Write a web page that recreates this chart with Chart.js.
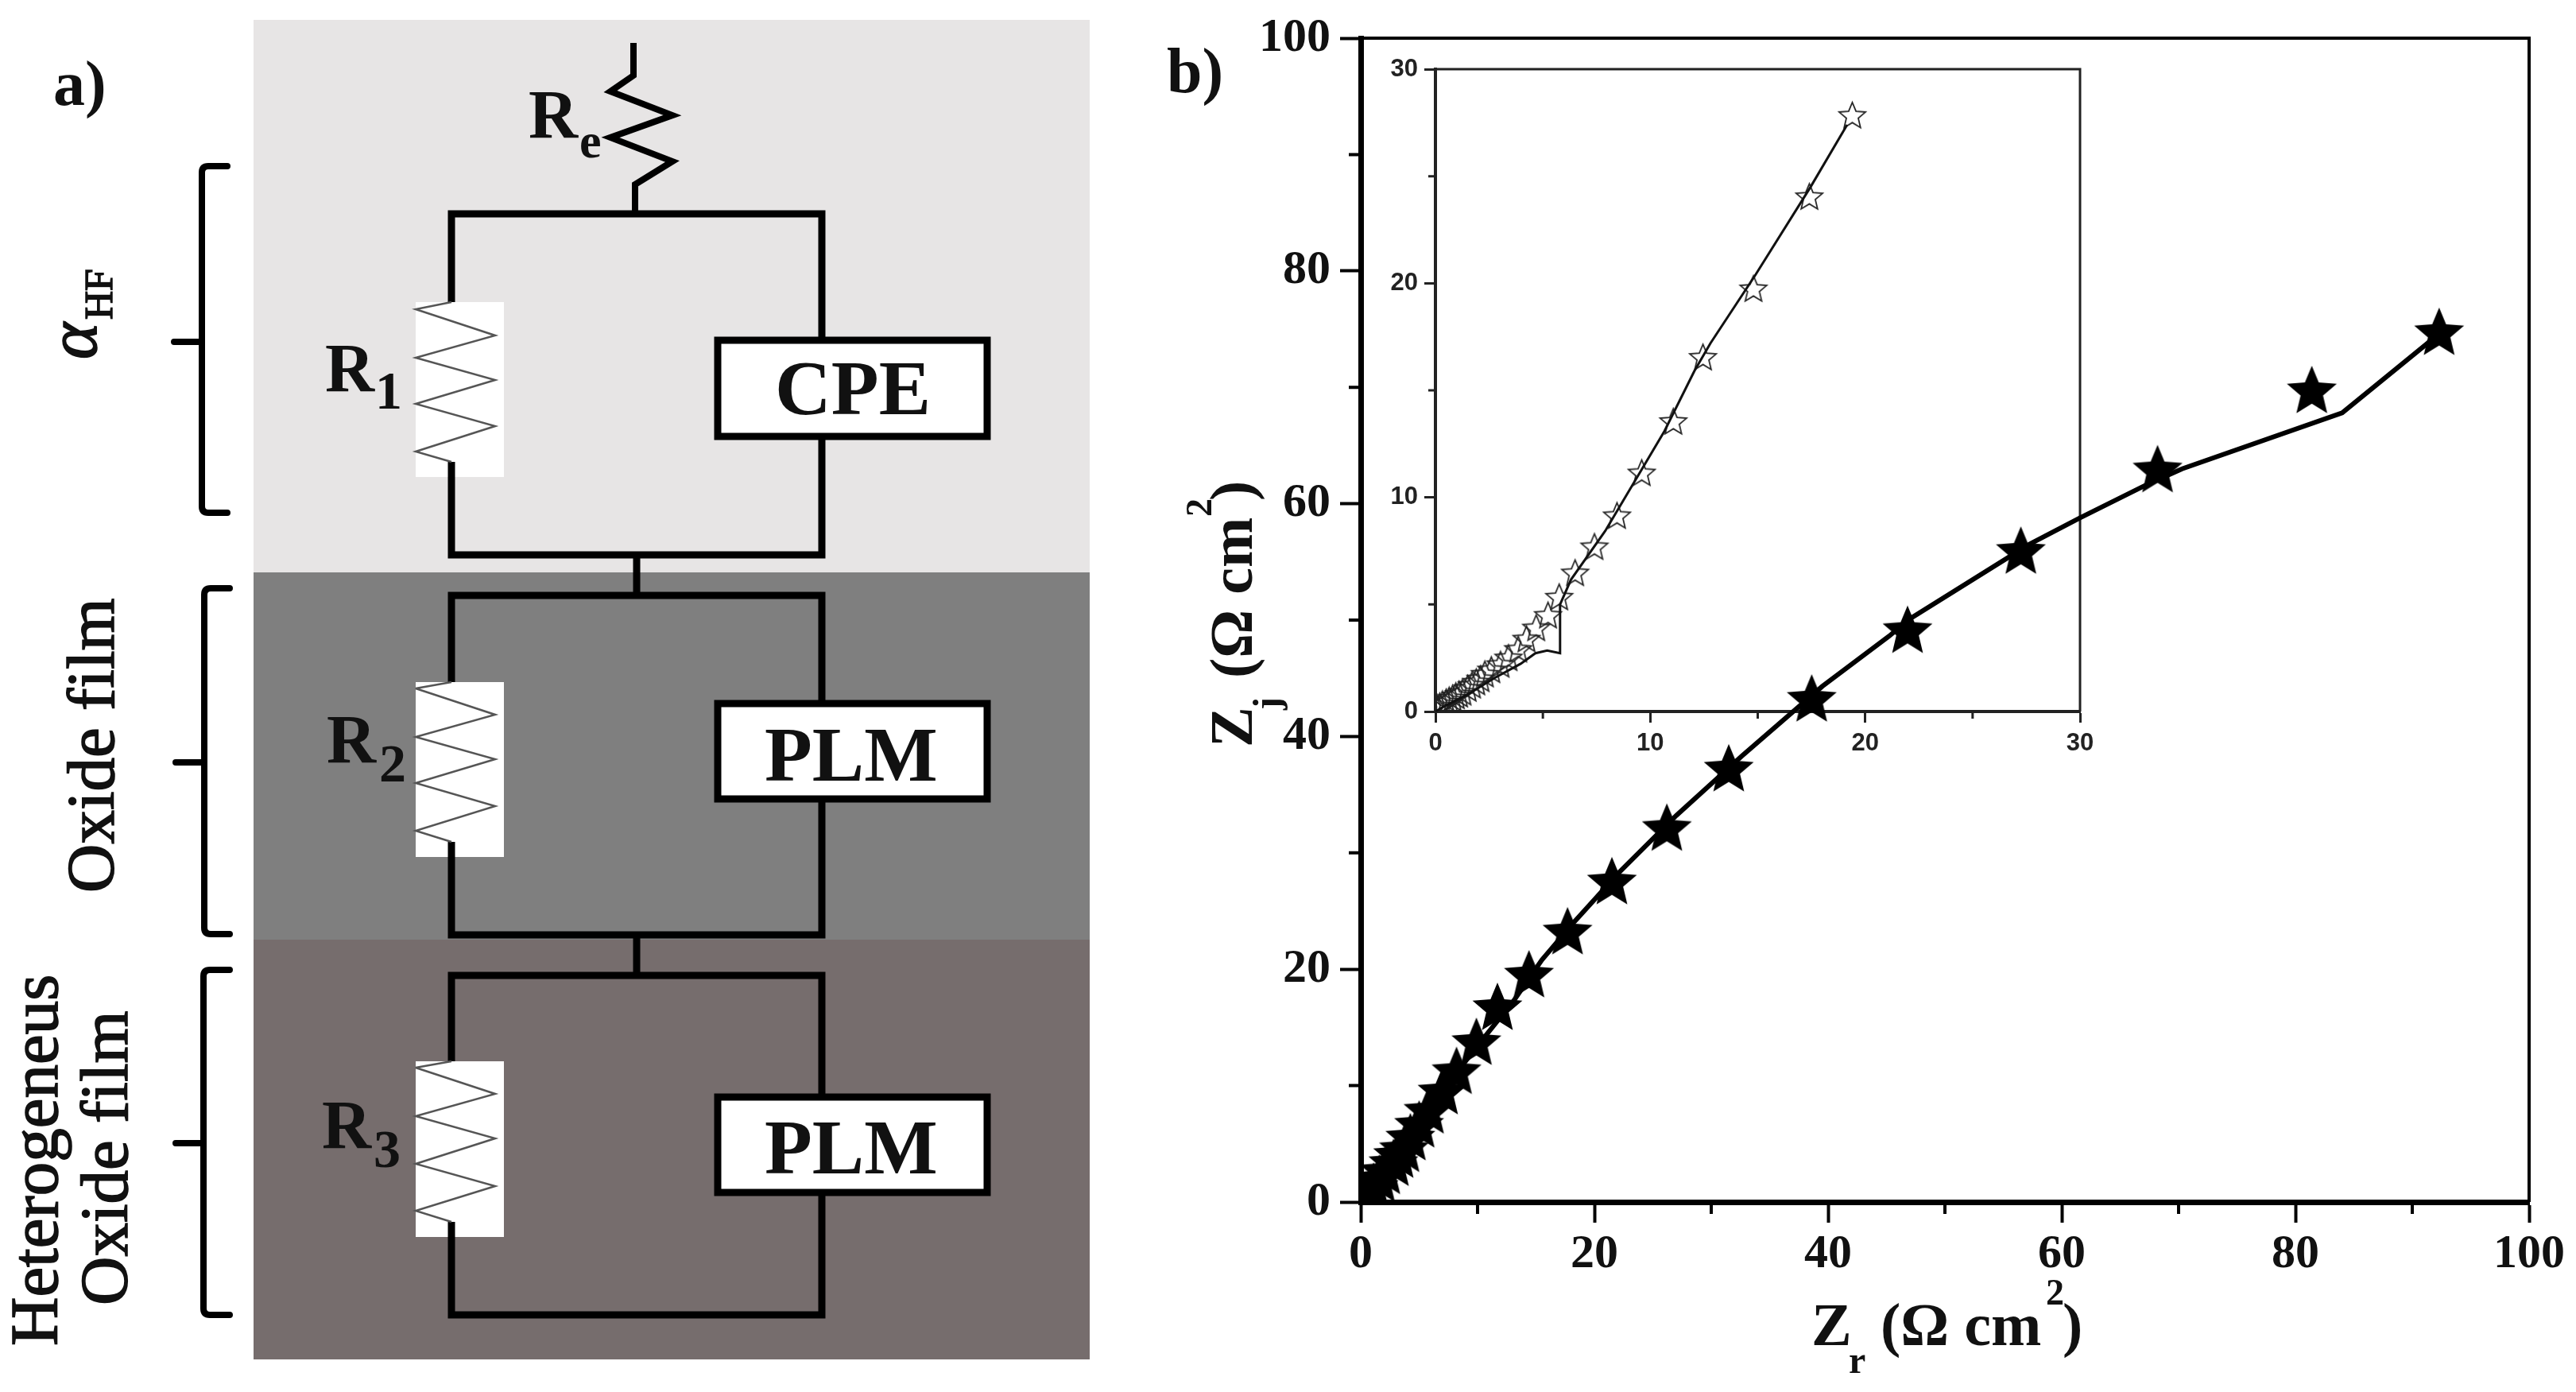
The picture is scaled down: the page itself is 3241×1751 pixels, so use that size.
<!DOCTYPE html>
<html>
<head>
<meta charset="utf-8">
<title>Equivalent circuit and Nyquist plot</title>
<script src="https://cdn.jsdelivr.net/npm/chart.js@4"></script>
<style>
    html, body { margin: 0; padding: 0; background: #fff; }
    #page { position: relative; width: 3241px; height: 1751px; overflow: hidden; background: #fff; }
    canvas, svg { position: absolute; }
    #inset-chart { left: 1700px; top: 60px; z-index: 1; }
    #main-chart { left: 0; top: 0; z-index: 2; }
    #overlay { left: 0; top: 0; z-index: 3; pointer-events: none; }
    text { font-family: "Liberation Serif", serif; font-weight: bold; fill: #111; }
    .side { font-weight: normal; stroke: #111; stroke-width: 1.6; }
</style>
</head>
<body>
<div id="page">
    <canvas id="inset-chart" width="1000" height="900"></canvas>
    <canvas id="main-chart" width="3241" height="1751"></canvas>
    <svg id="overlay" width="3241" height="1751" viewBox="0 0 3241 1751">
        <!-- a) circuit -->
        <rect x="319" y="25" width="1052" height="696" fill="#e7e5e5"/>
        <rect x="319" y="720" width="1052" height="462" fill="#7f7f7f"/>
        <rect x="319" y="1182" width="1052" height="528" fill="#766d6d"/>

        <g fill="#fff" stroke="none">
            <rect x="523" y="380" width="111" height="220"/>
            <rect x="523" y="858" width="111" height="220"/>
            <rect x="523" y="1335" width="111" height="221"/>
        </g>
        <g fill="none" stroke="#000" stroke-width="9">
            <polyline points="797,54 797,95 768,115 846,145 768,173 846,203 799,232 799,268" stroke-width="8"/>
            <path d="M568 380V269H1034V428M1034 550V698H568V581"/>
            <path d="M801 698V748"/>
            <path d="M568 858V749H1034V885M1034 1005V1176H568V1059"/>
            <path d="M801 1176V1227"/>
            <path d="M568 1335V1227H1034V1380M1034 1500V1654H568V1537"/>
        </g>
        <g fill="none" stroke="#555" stroke-width="2.5">
            <polyline points="568,380 523,389 623,422 523,450 623,478 523,508 623,536 523,568 568,581"/>
            <polyline points="568,858 523,866 623,899 523,927 623,955 523,985 623,1014 523,1045 568,1059"/>
            <polyline points="568,1335 523,1343 623,1376 523,1404 623,1432 523,1464 623,1492 523,1523 568,1537"/>
        </g>

        <g stroke="#000" stroke-width="9">
            <rect x="903" y="428" width="339" height="121" fill="#fff"/>
            <rect x="903" y="885" width="339" height="120" fill="#fff"/>
            <rect x="903" y="1380" width="339" height="120" fill="#fff"/>
        </g>
        <text x="975" y="521" font-size="98">CPE</text>
        <text x="962" y="982" font-size="98">PLM</text>
        <text x="962" y="1476" font-size="98">PLM</text>

        <text x="665" y="173" font-size="86">R</text><text x="729" y="198" font-size="62">e</text>
        <text x="409" y="492" font-size="86">R</text><text x="472" y="514" font-size="68">1</text>
        <text x="411" y="959" font-size="86">R</text><text x="477" y="983" font-size="68">2</text>
        <text x="405" y="1444" font-size="86">R</text><text x="470" y="1468" font-size="68">3</text>

        <g fill="none" stroke="#000" stroke-width="8" stroke-linecap="round" stroke-linejoin="round">
            <path d="M286 209H262Q254 209 254 217V637Q254 645 262 645H286M219 430H254"/>
            <path d="M289 740H265Q257 740 257 748V1167Q257 1175 265 1175H289M221 959H257"/>
            <path d="M289 1220H264Q256 1220 256 1228V1646Q256 1654 264 1654H289M221 1438H256"/>
        </g>

        <g transform="translate(121,452) rotate(-90)">
            <text class="side" font-size="88" font-style="italic">α</text>
            <text class="side" x="50" y="20" font-size="50">HF</text>
        </g>
        <text class="side" transform="translate(143,1123) rotate(-90)" font-size="85">Oxide film</text>
        <text class="side" transform="translate(72,1693) rotate(-90)" font-size="85">Heterogeneus</text>
        <text class="side" transform="translate(160,1642) rotate(-90)" font-size="85">Oxide film</text>

        <text x="67" y="132" font-size="80">a)</text>
        <text x="1468" y="116" font-size="80">b)</text>

        <!-- axis titles -->
        <g transform="translate(2279,1692)">
            <text font-size="76">Z</text>
            <text x="47" y="35" font-size="48">r</text>
            <text x="87" font-size="76">(Ω cm</text>
            <text x="295" y="-51" font-size="46">2</text>
            <text x="316" font-size="76">)</text>
        </g>
        <g transform="translate(1575,940) rotate(-90)">
            <text font-size="76">Z</text>
            <text x="47" y="35" font-size="48">j</text>
            <text x="87" font-size="76">(Ω cm</text>
            <text x="290" y="-51" font-size="46">2</text>
            <text x="310" font-size="76">)</text>
        </g>
    </svg>
</div>
<script>
const mainTicks = [0, 20, 40, 60, 80, 100];
const mainMinorTicks = [10, 30, 50, 70, 90];
const insetTicks = [0, 10, 20, 30];
const insetMinorTicks = [5, 15, 25];

// fitted curve, main plot
const fitZr = [0, 0.5, 2, 4, 6, 8.5, 10.7, 13.1, 15.5, 18.3, 22.1, 27, 32.6, 39.5, 45.2, 47, 57.2, 61.6, 67, 70.3, 84, 92.3];
const fitZj = [0, 0.8, 3, 5.6, 8.3, 11.5, 14.3, 17.3, 20.8, 24.1, 28.3, 33.2, 38.3, 44.3, 48.6, 50.1, 56.5, 58.8, 61.5, 63, 67.8, 74.6];

// measured points, main plot
const measZr = [0.3, 0.7, 1.1, 1.6, 2.06, 2.8, 3.2, 3.7, 4.25, 5, 5.8, 7, 8.2, 9.9, 11.7, 14.4, 17.7, 21.5, 26.2, 31.5, 38.6, 46.8, 56.5, 68.2, 81.4, 92.3];
const measZj = [0.2, 0.6, 1.15, 1.85, 2.5, 3.2, 3.9, 4.4, 5.4, 6.5, 7.7, 9.35, 11.1, 13.6, 16.6, 19.4, 23.1, 27.4, 32, 37.1, 43.1, 49, 55.8, 62.8, 69.6, 74.6];

// fitted curve, inset
const insetFitZr = [0, 0.34, 1.5, 2.74, 3.97, 4.65, 5.2, 5.8, 5.8, 6.31, 7.9, 10.66, 12.05, 12.8, 14.9, 17.46, 19.16];
const insetFitZj = [0, 0.2, 0.8, 1.56, 2.23, 2.72, 2.85, 2.72, 5.0, 6.16, 8.43, 13.1, 15.9, 17.2, 20.4, 24.5, 27.4];

// measured points, inset
const insetZr = [0.05, 0.1, 0.2, 0.33, 0.5, 0.64, 0.8, 0.95, 1.1, 1.26, 1.5, 1.7, 1.9, 2.1, 2.3, 2.6, 3.03, 3.4, 3.85, 4.24, 4.69, 5.24, 5.76, 6.5, 7.4, 8.45, 9.6, 11.07, 12.45, 14.8, 17.4, 19.4];
const insetZj = [0.06, 0.13, 0.2, 0.3, 0.39, 0.48, 0.58, 0.68, 0.76, 0.85, 1.03, 1.18, 1.33, 1.48, 1.7, 1.9, 2.15, 2.46, 2.86, 3.34, 3.86, 4.45, 5.3, 6.43, 7.65, 9.1, 11.1, 13.5, 16.5, 19.7, 24, 27.8];

const toPoints = (xs, ys) => xs.map((x, i) => ({ x: x, y: ys[i] }));

// five pointed star, Chart.js only ships a six armed one
const makeStar = (radius, fill, stroke, strokeWidth) => {
    const size = Math.ceil(radius * 2 + strokeWidth * 2 + 2);
    const star = document.createElement('canvas');
    star.width = size;
    star.height = size;
    const ctx = star.getContext('2d');
    ctx.translate(size / 2, size / 2);
    ctx.beginPath();
    for (let i = 0; i < 10; i++) {
        const r = i % 2 ? radius * 0.45 : radius;
        const a = -Math.PI / 2 + i * Math.PI / 5;
        ctx.lineTo(r * Math.cos(a), r * Math.sin(a));
    }
    ctx.closePath();
    if (fill) {
        ctx.fillStyle = fill;
        ctx.fill();
    }
    if (stroke) {
        ctx.strokeStyle = stroke;
        ctx.lineWidth = strokeWidth;
        ctx.stroke();
    }
    return star;
};

// thin top/right frame and the shorter minor ticks
const framePlugin = {
    id: 'frame',
    beforeDatasetsDraw(chart, args, opts) {
        const { ctx, chartArea, scales } = chart;
        ctx.save();
        ctx.strokeStyle = opts.color;
        ctx.lineWidth = opts.frameWidth;
        ctx.beginPath();
        ctx.moveTo(chartArea.left, chartArea.top);
        ctx.lineTo(chartArea.right, chartArea.top);
        ctx.lineTo(chartArea.right, chartArea.bottom);
        ctx.stroke();
        ctx.lineWidth = opts.tickWidth;
        ctx.beginPath();
        opts.minor.forEach(v => {
            const px = scales.x.getPixelForValue(v);
            const py = scales.y.getPixelForValue(v);
            ctx.moveTo(px, chartArea.bottom);
            ctx.lineTo(px, chartArea.bottom + opts.minorLength);
            ctx.moveTo(chartArea.left, py);
            ctx.lineTo(chartArea.left - opts.minorLength, py);
        });
        ctx.stroke();
        ctx.restore();
    }
};

const axisOptions = (cfg, isY) => ({
    type: 'linear',
    min: cfg.ticks[0],
    max: cfg.ticks[cfg.ticks.length - 1],
    afterFit: scale => {
        if (isY) scale.width = cfg.yWidth;
        else scale.height = cfg.xHeight;
    },
    afterBuildTicks: scale => {
        scale.ticks = cfg.ticks.map(v => ({ value: v }));
    },
    border: { display: true, color: cfg.color, width: cfg.axisWidth },
    grid: {
        drawOnChartArea: false,
        color: cfg.color,
        tickLength: cfg.tickLength,
        tickWidth: cfg.tickWidth
    },
    ticks: {
        color: cfg.labelColor,
        font: cfg.font,
        padding: isY ? cfg.yPadding : cfg.xPadding,
        maxRotation: 0,
        autoSkip: false
    }
});

const chartOptions = cfg => ({
    responsive: false,
    animation: false,
    devicePixelRatio: 1,
    layout: { padding: cfg.padding },
    plugins: {
        legend: { display: false },
        tooltip: { enabled: false },
        frame: {
            color: cfg.color,
            frameWidth: cfg.frameWidth,
            tickWidth: cfg.tickWidth,
            minor: cfg.minor,
            minorLength: cfg.minorLength
        }
    },
    scales: {
        x: axisOptions(cfg, false),
        y: axisOptions(cfg, true)
    }
});

new Chart(document.getElementById('inset-chart').getContext('2d'), {
    type: 'scatter',
    plugins: [framePlugin],
    data: {
        datasets: [{
            label: 'Fit',
            data: toPoints(insetFitZr, insetFitZj),
            showLine: true,
            borderColor: '#111',
            borderWidth: 3,
            pointRadius: 0,
            tension: 0
        }, {
            label: 'Zj',
            data: toPoints(insetZr, insetZj),
            showLine: false,
            pointStyle: makeStar(17.5, null, '#222', 1.8),
            pointRadius: 10,
            clip: 0
        }]
    },
    options: chartOptions({
        ticks: insetTicks,
        minor: insetMinorTicks,
        padding: { left: 6, right: 83, top: 27, bottom: 5 },
        yWidth: 100,
        xHeight: 60,
        color: '#222',
        labelColor: '#222',
        font: { family: '"Liberation Sans"', size: 31, weight: 'bold' },
        axisWidth: 4,
        frameWidth: 3,
        tickWidth: 3,
        tickLength: 14,
        minorLength: 9,
        xPadding: 8,
        yPadding: 8
    })
});

new Chart(document.getElementById('main-chart').getContext('2d'), {
    type: 'scatter',
    plugins: [framePlugin],
    data: {
        datasets: [{
            label: 'Fit',
            data: toPoints(fitZr, fitZj),
            showLine: true,
            borderColor: '#000',
            borderWidth: 6,
            pointRadius: 0,
            tension: 0
        }, {
            label: 'Zj',
            data: toPoints(measZr, measZj),
            showLine: false,
            pointStyle: makeStar(33, '#000', null, 0),
            pointRadius: 10,
            clip: 0
        }]
    },
    options: chartOptions({
        ticks: mainTicks,
        minor: mainMinorTicks,
        padding: { left: 1572, right: 59, top: 46, bottom: 119 },
        yWidth: 140,
        xHeight: 120,
        color: '#000',
        labelColor: '#111',
        font: { family: '"Liberation Serif"', size: 60, weight: 'bold' },
        axisWidth: 7,
        frameWidth: 4,
        tickWidth: 4,
        tickLength: 26,
        minorLength: 15,
        xPadding: 4,
        yPadding: 12
    })
});
</script>
</body>
</html>
